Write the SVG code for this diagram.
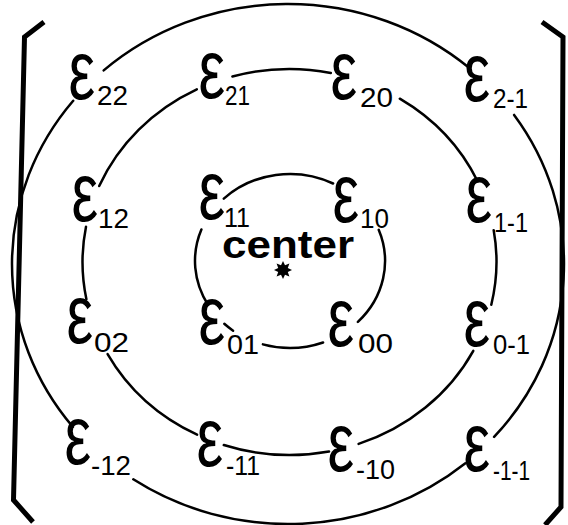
<svg xmlns="http://www.w3.org/2000/svg" width="568" height="525" viewBox="0 0 568 525">
<style>
.arc{fill:none;stroke:#000;stroke-width:2.5;stroke-linecap:round}
.br{fill:none;stroke:#000;stroke-width:5;stroke-linejoin:miter;stroke-linecap:butt}
.e{font-family:"Liberation Sans",Arial,sans-serif;font-size:83px;fill:#000}
.s{font-family:"Liberation Sans",Arial,sans-serif;font-size:28px;fill:#000}
.c{font-family:"Liberation Sans",Arial,sans-serif;font-size:39px;font-weight:bold;fill:#000}
</style>
<rect width="568" height="525" fill="#fff"/>
<g id="brackets">
<path class="br" d="M44 22 L24.5 37 L13.5 500 L33 522"/>
<path class="br" d="M542 22 L563 37 L561 507 L545 525"/>
</g>
<g id="connectors">
<path class="arc" d="M103.7 70.4 A276 260 0 0 1 469.1 67.8"/>
<path class="arc" d="M514.1 114.9 A276 260 0 0 1 494.1 436.9"/>
<path class="arc" d="M465.4 463.2 A276 260 0 0 1 133.3 479.3"/>
<path class="arc" d="M72.9 426.9 A276 260 0 0 1 73.2 100.7"/>
<path class="arc" d="M99.2 186 A207 193 0 0 1 196.8 89.4"/>
<path class="arc" d="M232.4 76.5 A207 193 0 0 1 330.8 72.9"/>
<path class="arc" d="M399.8 98.7 A207 193 0 0 1 477.6 181.3"/>
<path class="arc" d="M493.7 230.2 A207 193 0 0 1 491.3 304.7"/>
<path class="arc" d="M473.3 350.8 A207 193 0 0 1 358.6 443.9"/>
<path class="arc" d="M329 451.5 A207 193 0 0 1 223.8 445"/>
<path class="arc" d="M197.1 434.7 A207 193 0 0 1 107.6 354.1"/>
<path class="arc" d="M86.4 299.2 A207 193 0 0 1 86 226.8"/>
<path class="arc" d="M223.8 198.6 A95 87 0 0 1 333.1 183.5"/>
<path class="arc" d="M378.7 229.8 A95 87 0 0 1 357.9 321.9"/>
<path class="arc" d="M323.1 342.5 A95 87 0 0 1 262.9 344.4"/>
<path class="arc" d="M233.1 330.7 A95 87 0 0 1 224.3 323.8"/>
<path class="arc" d="M208.1 305 A95 87 0 0 1 201.4 229.5"/>
</g>
<g id="center">
<text class="c" x="222" y="258" textLength="132" lengthAdjust="spacingAndGlyphs">center</text>
<polygon points="292,270 287.8,272 289.4,276.4 285,274.8 283,279 281,274.8 276.6,276.4 278.2,272 274,270 278.2,268 276.6,263.6 281,265.2 283,261 285,265.2 289.4,263.6 287.8,268" fill="#000"/>
</g>
<g id="e22"><text class="e" transform="translate(72,99) scale(0.72,1)" x="-5">ε</text><text class="s" x="97" y="105" textLength="31" lengthAdjust="spacingAndGlyphs">22</text></g>
<g id="e21"><text class="e" transform="translate(202,98) scale(0.72,1)" x="-5">ε</text><text class="s" x="225" y="105" textLength="25" lengthAdjust="spacingAndGlyphs">21</text></g>
<g id="e20"><text class="e" transform="translate(334,99) scale(0.72,1)" x="-5">ε</text><text class="s" x="360" y="107" textLength="33" lengthAdjust="spacingAndGlyphs">20</text></g>
<g id="e2m1"><text class="e" transform="translate(467,101) scale(0.72,1)" x="-5">ε</text><text class="s" x="493" y="108" textLength="35" lengthAdjust="spacingAndGlyphs">2-1</text></g>
<g id="e12"><text class="e" transform="translate(75,221) scale(0.72,1)" x="-5">ε</text><text class="s" x="98" y="228" textLength="31" lengthAdjust="spacingAndGlyphs">12</text></g>
<g id="e11"><text class="e" transform="translate(202,219) scale(0.72,1)" x="-5">ε</text><text class="s" x="224" y="227" textLength="26" lengthAdjust="spacingAndGlyphs">11</text></g>
<g id="e10"><text class="e" transform="translate(336,222) scale(0.72,1)" x="-5">ε</text><text class="s" x="360" y="228" textLength="29" lengthAdjust="spacingAndGlyphs">10</text></g>
<g id="e1m1"><text class="e" transform="translate(469,222) scale(0.72,1)" x="-5">ε</text><text class="s" x="494" y="232" textLength="34" lengthAdjust="spacingAndGlyphs">1-1</text></g>
<g id="e02"><text class="e" transform="translate(70,343) scale(0.72,1)" x="-5">ε</text><text class="s" x="94" y="352" textLength="35" lengthAdjust="spacingAndGlyphs">02</text></g>
<g id="e01"><text class="e" transform="translate(202,344) scale(0.72,1)" x="-5">ε</text><text class="s" x="227" y="354" textLength="32" lengthAdjust="spacingAndGlyphs">01</text></g>
<g id="e00"><text class="e" transform="translate(331,346) scale(0.72,1)" x="-5">ε</text><text class="s" x="358" y="353" textLength="35" lengthAdjust="spacingAndGlyphs">00</text></g>
<g id="e0m1"><text class="e" transform="translate(467,346) scale(0.72,1)" x="-5">ε</text><text class="s" x="493" y="354" textLength="37" lengthAdjust="spacingAndGlyphs">0-1</text></g>
<g id="em12"><text class="e" transform="translate(68,464) scale(0.72,1)" x="-5">ε</text><text class="s" x="91" y="475" textLength="40" lengthAdjust="spacingAndGlyphs">-12</text></g>
<g id="em11"><text class="e" transform="translate(200,466) scale(0.72,1)" x="-5">ε</text><text class="s" x="226" y="475" textLength="34" lengthAdjust="spacingAndGlyphs">-11</text></g>
<g id="em10"><text class="e" transform="translate(331,471) scale(0.72,1)" x="-5">ε</text><text class="s" x="356" y="479" textLength="39" lengthAdjust="spacingAndGlyphs">-10</text></g>
<g id="em1m1"><text class="e" transform="translate(467,471) scale(0.72,1)" x="-5">ε</text><text class="s" x="493" y="480" textLength="37" lengthAdjust="spacingAndGlyphs">-1-1</text></g>
</svg>
